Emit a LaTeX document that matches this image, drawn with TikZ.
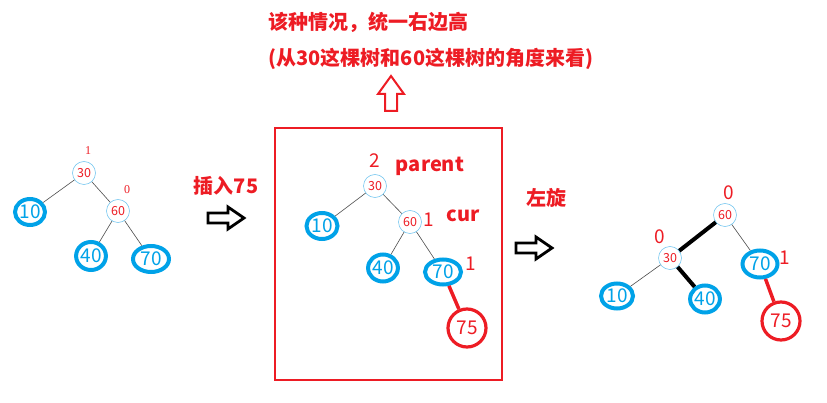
\documentclass[tikz,border=0pt]{standalone}
\usepackage{fontspec}
\setmainfont{Liberation Serif}
\newfontfamily\cjk{Noto Sans CJK SC}
\usetikzlibrary{shapes.geometric}
\definecolor{pred}{RGB}{237,28,36}
\definecolor{pblue}{RGB}{0,162,232}
\definecolor{lblue}{RGB}{120,200,240}
\tikzset{
  small/.style={circle, draw=lblue, line width=0.6pt, fill=white, inner sep=0pt,
    minimum size=23pt, text=pred, font=\cjk\fontsize{12.5}{12.5}\selectfont},
  leaf/.style={ellipse, draw=pblue, line width=4pt, inner sep=0pt,
    text=pblue, font=\cjk\fontsize{19}{19}\selectfont},
  newleaf/.style={circle, draw=pred, line width=3.2pt, inner sep=0pt,
    minimum size=38pt, text=pred, font=\cjk\fontsize{19}{19}\selectfont},
  bf/.style={text=pred, font=\fontsize{12}{12}\selectfont},
  bfbig/.style={text=pred, font=\cjk\fontsize{19}{19}\selectfont},
  tag/.style={text=pred, font=\cjk\bfseries\fontsize{20}{20}\selectfont},
  edge/.style={draw=black!70, line width=0.6pt},
  heavy/.style={draw=black, line width=4pt},
  redge/.style={draw=pred, line width=3.5pt},
  rarrow/.pic={\draw[line width=2.8pt, line join=miter]
    (-18,-5) -- (2,-5) -- (2,-11) -- (18,0) -- (2,11) -- (2,5) -- (-18,5) -- cycle;},
  uarrow/.pic={\draw[pred, line width=2pt]
    (-6,18) -- (6,18) -- (6,1) -- (13,1) -- (0,-17) -- (-13,1) -- (-6,1) -- cycle;}
}
\begin{document}
\begin{tikzpicture}[x=1pt, y=-1pt]
  \useasboundingbox (0,0) rectangle (827,403);

  % heading
  \node[tag, anchor=west] (head) at (265,22) {该种情况，统一右边高};
  \node[tag, anchor=west] (sub) at (265,59) {(从30这棵树和60这棵树的角度来看)};
  \pic at (391,93) {uarrow};

  % tree before insert
  \node[leaf, minimum width=30pt, minimum height=26pt] (a10) at (30,212) {10};
  \node[leaf, minimum width=28pt, minimum height=28pt] (a40) at (91,256) {40};
  \node[leaf, minimum width=36pt, minimum height=26pt] (a70) at (151,259) {70};
  \draw[edge] (84,173) -- (a10);
  \draw[edge] (118,211) -- (a40);
  \draw[edge] (118,211) -- (a70);
  \draw[edge] (84,173) -- (118,211);
  \node[small] (a30) at (84,173) {30};
  \node[small] (a60) at (118,211) {60};
  \node[bf] (b1) at (88,151) {1};
  \node[bf] (b2) at (127,190) {0};

  \node[tag] (ins) at (226,186) {插入75};
  \pic at (226,218) {rarrow};

  % tree after insert
  \draw[pred, line width=2pt] (275,128) rectangle (502,380);
  \node[leaf, minimum width=31pt, minimum height=26pt] (c10) at (322,226) {10};
  \node[leaf, minimum width=28pt, minimum height=27pt] (c40) at (383,268) {40};
  \node[leaf, minimum width=36pt, minimum height=25pt] (c70) at (443,272) {70};
  \node[newleaf] (c75) at (467,328) {75};
  \draw[edge] (375,186) -- (c10);
  \draw[edge] (375,186) -- (410,222);
  \draw[edge] (410,222) -- (c40);
  \draw[edge] (410,222) -- (c70);
  \draw[redge] (c70) -- (c75);
  \node[small] (c30) at (375,186) {30};
  \node[small] (c60) at (410,222) {60};
  \node[bfbig] (d1) at (375,161) {2};
  \node[bfbig] (d2) at (429,220) {1};
  \node[bfbig] (d3) at (471,264) {1};
  \node[tag] (par) at (430,166) {parent};
  \node[tag] (cur) at (463,216) {cur};

  \node[tag] (rot) at (546,198) {左旋};
  \pic at (534,248) {rarrow};

  % tree after rotation
  \node[leaf, minimum width=32pt, minimum height=25pt] (e10) at (617,296) {10};
  \node[leaf, minimum width=28pt, minimum height=27pt] (e40) at (705,299) {40};
  \node[leaf, minimum width=35pt, minimum height=27pt] (e70) at (760,264) {70};
  \node[newleaf] (e75) at (781,321) {75};
  \draw[heavy] (725,215) -- (670,258);
  \draw[heavy] (670,258) -- (e40);
  \draw[edge] (670,258) -- (e10);
  \draw[edge] (725,215) -- (e70);
  \draw[redge] (e70) -- (e75);
  \node[small] (e60) at (725,215) {60};
  \node[small] (e30) at (670,258) {30};
  \node[bfbig] (f1) at (729,193) {0};
  \node[bfbig] (f2) at (660,237) {0};
  \node[bfbig] (f3) at (785,258) {1};
\end{tikzpicture}
\end{document}
